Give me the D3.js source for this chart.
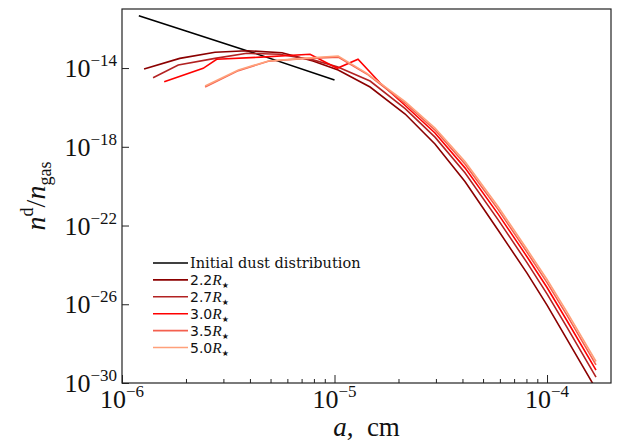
<!DOCTYPE html>
<html>
<head>
<meta charset="utf-8">
<script src="https://cdn.jsdelivr.net/npm/d3@7"></script>
<style>
  body { margin: 0; background: #fff; }
  text { font-family: "Liberation Serif", "DejaVu Serif", serif; fill: #111; }
</style>
</head>
<body>
<div id="chart"></div>
<script>

// values: grain size a (cm) and n_d / n_gas
var initA = [1.2e-6, 2.0e-6, 4.0e-6, 1.0e-5];
var initN = [4.6e-12, 7.7e-13, 6.8e-14, 2.5e-15];

var a22 = [1.27e-6, 1.87e-6, 2.74e-6, 3.87e-6, 5.66e-6, 7.92e-6, 1.04e-5, 1.47e-5, 2.15e-5, 2.97e-5, 4.11e-5, 5.88e-5, 8.05e-5, 1.0e-4, 1.24e-4, 1.70e-4];
var n22 = [8.9e-15, 3.1e-14, 6.3e-14, 7.6e-14, 6.0e-14, 2.3e-14, 7.9e-15, 1.09e-15, 4.6e-17, 1.38e-18, 1.72e-20, 5.9e-23, 3.8e-25, 9.1e-27, 1.7e-28, 4.9e-31];

var a27 = [1.40e-6, 1.84e-6, 2.74e-6, 3.87e-6, 5.5e-6, 7.92e-6, 1.03e-5, 1.47e-5, 2.15e-5, 2.97e-5, 4.11e-5, 5.88e-5, 8.05e-5, 1.0e-4, 1.24e-4, 1.70e-4];
var n27 = [3.2e-15, 1.43e-14, 3.1e-14, 5.6e-14, 5.0e-14, 2.6e-14, 1.17e-14, 2.2e-15, 8.7e-17, 3.1e-18, 4.75e-20, 2.0e-22, 1.3e-24, 3.4e-26, 6.9e-28, 2.0e-30];

var a30 = [1.58e-6, 2.41e-6, 2.79e-6, 4.5e-6, 7.67e-6, 1.03e-5, 1.29e-5, 1.64e-5, 2.15e-5, 2.97e-5, 4.11e-5, 5.88e-5, 8.05e-5, 1.0e-4, 1.24e-4, 1.70e-4];
var n30 = [2.0e-15, 9.7e-15, 2.8e-14, 3.6e-14, 5.0e-14, 9.7e-15, 2.8e-14, 1.74e-15, 1.25e-16, 5.0e-18, 8.5e-20, 3.9e-22, 2.6e-24, 7.1e-26, 1.5e-27, 4.5e-30];

var a35 = [2.46e-6, 3.53e-6, 4.88e-6, 7.13e-6, 1.04e-5, 1.42e-5, 2.15e-5, 2.97e-5, 4.11e-5, 5.88e-5, 8.05e-5, 1.0e-4, 1.24e-4, 1.70e-4];
var n35 = [1.1e-15, 7.4e-15, 2.2e-14, 3.0e-14, 3.6e-14, 5.0e-15, 1.63e-16, 7.1e-18, 1.33e-19, 6.6e-22, 4.4e-24, 1.25e-25, 2.8e-27, 8.3e-30];

var a50 = [2.46e-6, 3.53e-6, 4.88e-6, 7.13e-6, 1.04e-5, 1.42e-5, 2.15e-5, 2.97e-5, 4.11e-5, 5.88e-5, 8.05e-5, 1.0e-4, 1.24e-4, 1.70e-4];
var n50 = [1.22e-15, 7.9e-15, 2.3e-14, 3.1e-14, 4.1e-14, 5.4e-15, 1.97e-16, 9.0e-18, 1.78e-19, 9.2e-22, 6.2e-24, 1.8e-25, 4.1e-27, 1.24e-29];

var radii = ["2.2", "2.7", "3.0", "3.5", "5.0"];
var colors = ["#8b0000", "#b22222", "#ff0000", "#f4604f", "#ffa07a"];

var xMajor = [1e-6, 1e-5, 1e-4];
var xMinor = [2e-6, 3e-6, 4e-6, 5e-6, 6e-6, 7e-6, 8e-6, 9e-6,
              2e-5, 3e-5, 4e-5, 5e-5, 6e-5, 7e-5, 8e-5, 9e-5];
var xExp = ["6", "5", "4"];
var yMajor = [1e-14, 1e-18, 1e-22, 1e-26, 1e-30];
var yExp = ["14", "18", "22", "26", "30"];


//set margins
var margin = {top: 9, right: 16, bottom: 63, left: 122};
var width = 627 - margin.left - margin.right;
var height = 446 - margin.top - margin.bottom;

var xScale = d3.scaleLog().domain([1e-6, 2e-4]).range([0, width]);
var yScale = d3.scaleLog().domain([1e-30, 1e-11]).range([height, 0]);

var svg = d3.select("#chart")
            .append("svg")
            .attr("width", 627)
            .attr("height", 446);

var g = svg.append("g")
           .attr("transform", "translate(" + margin.left + "," + margin.top + ")");

g.append("clipPath").attr("id", "clip")
  .append("rect").attr("width", width).attr("height", height);


//lines
var line = d3.line()
             .x(function(d) {return xScale(d[0]);})
             .y(function(d) {return yScale(d[1]);});

var series = [
  {a: initA, n: initN, color: "#000"},
  {a: a22, n: n22, color: colors[0]},
  {a: a27, n: n27, color: colors[1]},
  {a: a30, n: n30, color: colors[2]},
  {a: a35, n: n35, color: colors[3]},
  {a: a50, n: n50, color: colors[4]}
];

series.forEach(function(s) {
  g.append("path")
    .datum(d3.zip(s.a, s.n))
    .attr("clip-path", "url(#clip)")
    .attr("fill", "none")
    .attr("stroke", s.color)
    .attr("stroke-width", 1.6)
    .attr("d", line);
});


//axes (ticks pointing inward)
g.append("g")
  .attr("transform", "translate(0," + height + ")")
  .call(d3.axisBottom(xScale).tickValues(xMajor).tickSize(-8).tickFormat(""))
  .call(function(a) {a.select(".domain").remove();});

g.append("g")
  .attr("transform", "translate(0," + height + ")")
  .call(d3.axisBottom(xScale).tickValues(xMinor).tickSize(-4).tickFormat(""))
  .call(function(a) {a.select(".domain").remove();});

g.append("g")
  .call(d3.axisLeft(yScale).tickValues(yMajor).tickSize(-7).tickFormat(""))
  .call(function(a) {a.select(".domain").remove();});

g.selectAll(".tick line").attr("stroke", "#222").attr("stroke-width", 1);

g.append("rect")
  .attr("width", width)
  .attr("height", height)
  .attr("fill", "none")
  .attr("stroke", "#222")
  .attr("stroke-width", 1.2);


//tick labels
function powLabel(t, e) {
  t.append("tspan").text("10");
  t.append("tspan").attr("dy", -11).style("font-size", "17px").text("\u2212" + e);
}

xMajor.forEach(function(v, i) {
  g.append("text")
    .attr("x", xScale(v))
    .attr("y", height + 25)
    .attr("text-anchor", "middle")
    .style("font-size", "26px")
    .call(powLabel, xExp[i]);
});

yMajor.forEach(function(v, i) {
  g.append("text")
    .attr("x", -5)
    .attr("y", yScale(v) + 9)
    .attr("text-anchor", "end")
    .style("font-size", "26px")
    .call(powLabel, yExp[i]);
});


//axis labels
var xl = svg.append("text")
            .attr("x", margin.left + width / 2)
            .attr("y", 436)
            .attr("text-anchor", "middle")
            .style("font-size", "27px");
xl.append("tspan").style("font-style", "italic").text("a");
xl.append("tspan").text(",\u2002cm");

var yl = svg.append("text")
            .attr("transform", "translate(45," + (margin.top + height / 2) + ") rotate(-90)")
            .attr("text-anchor", "middle")
            .style("font-size", "28px");
yl.append("tspan").style("font-style", "italic").text("n");
yl.append("tspan").attr("dy", -12).style("font-size", "18px").text("d");
yl.append("tspan").attr("dy", 12).text("/");
yl.append("tspan").style("font-style", "italic").text("n");
yl.append("tspan").attr("dy", 6).style("font-size", "18px").text("gas");


//legend
var legX = 153, legY = 263, legStep = 16.9;

svg.append("line")
  .attr("x1", legX).attr("x2", legX + 35)
  .attr("y1", legY).attr("y2", legY)
  .attr("stroke", "#000").attr("stroke-width", 1.6);

svg.append("text")
  .attr("x", legX + 37).attr("y", legY + 5)
  .style("font-family", "DejaVu Serif")
  .style("font-size", "14.5px")
  .text("Initial dust distribution");

radii.forEach(function(r, i) {
  var y = legY + (i + 1) * legStep;
  svg.append("line")
    .attr("x1", legX).attr("x2", legX + 35)
    .attr("y1", y).attr("y2", y)
    .attr("stroke", colors[i]).attr("stroke-width", 1.6);
  var t = svg.append("text")
    .attr("x", legX + 37).attr("y", y + 5)
    .style("font-size", "14px");
  t.append("tspan").style("font-family", "DejaVu Sans").text(r);
  t.append("tspan").style("font-style", "italic").style("font-size", "15.5px").text("R");
  t.append("tspan").attr("dy", 3).style("font-family", "DejaVu Sans").style("font-size", "8px").text("\u2605");
});

</script>
</body>
</html>
